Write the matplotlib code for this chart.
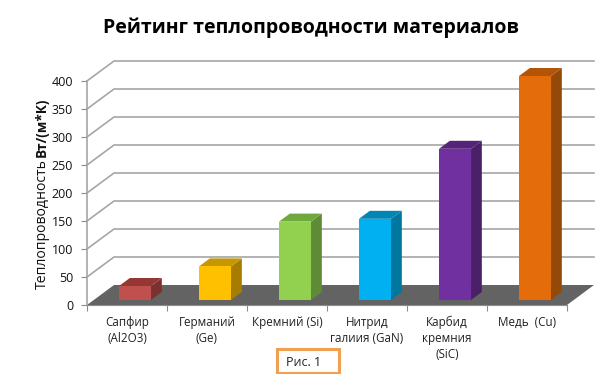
import matplotlib
matplotlib.use('Agg')
from matplotlib import pyplot as plt
from matplotlib.patches import Polygon, Rectangle

categories = ['Сапфир\n(Al2O3)', 'Германий\n(Ge)', 'Кремний (Si)',
              'Нитрид\nгалиия (GaN)', 'Карбид\nкремния\n(SiC)', 'Медь  (Cu)']
values = [25, 60, 140, 145, 270, 400]
front_colors = ['#C0504D', '#FFC000', '#92D050', '#00B0F0', '#7030A0', '#E46C0A']
top_colors = ['#953735', '#C69700', '#6FA83C', '#0085B5', '#55247A', '#B35508']
side_colors = ['#7A3230', '#A67D00', '#5F8A36', '#00779F', '#4A2068', '#934A08']
y_ticks = [0, 50, 100, 150, 200, 250, 300, 350, 400]

W, H = 598, 374
plt.rcParams['font.family'] = ['Open Sans', 'DejaVu Sans']

fig = plt.figure(figsize=(W / 100, H / 100), dpi=100)
# front plane of the 3d box, in pixels of the picture
left, right, bottom, top = 87, 567, 305, 81
ax = fig.add_axes([left / W, 1 - bottom / H, (right - left) / W, (bottom - top) / H])
ax.set_xlim(0, len(categories))
ax.set_ylim(0, 400)

# one unit of depth moves a point to the back wall
dx = 27 / 80
dy = 20 / 224 * 400


def proj(x, y, d):
    return (x + d * dx, y + d * dy)


def face(points, color, zorder, **kw):
    ax.add_patch(Polygon([proj(*p) for p in points], closed=True, facecolor=color,
                         edgecolor='none', clip_on=False, zorder=zorder, **kw))


n = len(categories)
face([(0, 0, 0), (n, 0, 0), (n, 0, 1), (0, 0, 1)], '#636363', 2)

for v in y_ticks[1:]:
    xs, ys = zip(proj(0, v, 0), proj(0, v, 1), proj(n, v, 1))
    ax.plot(xs, ys, color='#A6A6A6', lw=1.2, clip_on=False, zorder=1,
            solid_joinstyle='miter')

bar_w = 0.4
d0, d1 = 0.25, 0.65
for i, v in enumerate(values):
    x0 = i + 0.316
    x1 = x0 + bar_w
    face([(x1, 0, d0), (x1, 0, d1), (x1, v, d1), (x1, v, d0)], side_colors[i], 3)
    face([(x0, v, d0), (x1, v, d0), (x1, v, d1), (x0, v, d1)], top_colors[i], 3)
    face([(x0, 0, d0), (x1, 0, d0), (x1, v, d0), (x0, v, d0)], front_colors[i], 4)

for s in ['top', 'right']:
    ax.spines[s].set_visible(False)
ax.spines['left'].set_color('#A6A6A6')
ax.spines['left'].set_linewidth(1.2)
ax.spines['bottom'].set_color('#8C8C8C')
ax.patch.set_visible(False)

ax.set_yticks(y_ticks)
ax.tick_params(axis='y', length=4, color='#8C8C8C', labelsize=9, pad=6, labelcolor='#111111')
ax.set_xticks(range(n + 1))
ax.set_xticklabels([])
ax.tick_params(axis='x', which='major', length=4, color='#8C8C8C')
ax.set_xticks([i + 0.5 for i in range(n)], minor=True)
ax.set_xticklabels(categories, minor=True, fontsize=8.4, color='#222222', linespacing=1.28)
ax.tick_params(axis='x', which='minor', length=0, pad=8)

fig.text(311 / W, 1 - 28 / H, 'Рейтинг теплопроводности материалов', ha='center', va='center',
         fontsize=14, fontweight='bold', color='black')
fig.text(42 / W, 1 - 224 / H, 'Теплопроводность', rotation=90, ha='center', va='center',
         fontsize=10.1, color='#111111')
fig.text(42 / W, 1 - 127 / H, 'Вт/(м*К)', rotation=90, ha='center', va='center',
         fontsize=9.8, fontweight='bold', color='#111111')

fig.add_artist(Rectangle((277 / W, 1 - 373 / H), 62 / W, 24 / H, transform=fig.transFigure,
                         facecolor='white', edgecolor='#F0A050', lw=2.2))
fig.text(304 / W, 1 - 362.5 / H, 'Рис. 1', ha='center', va='center', fontsize=9, color='#222222')

fig.savefig('out.png', dpi=100)
